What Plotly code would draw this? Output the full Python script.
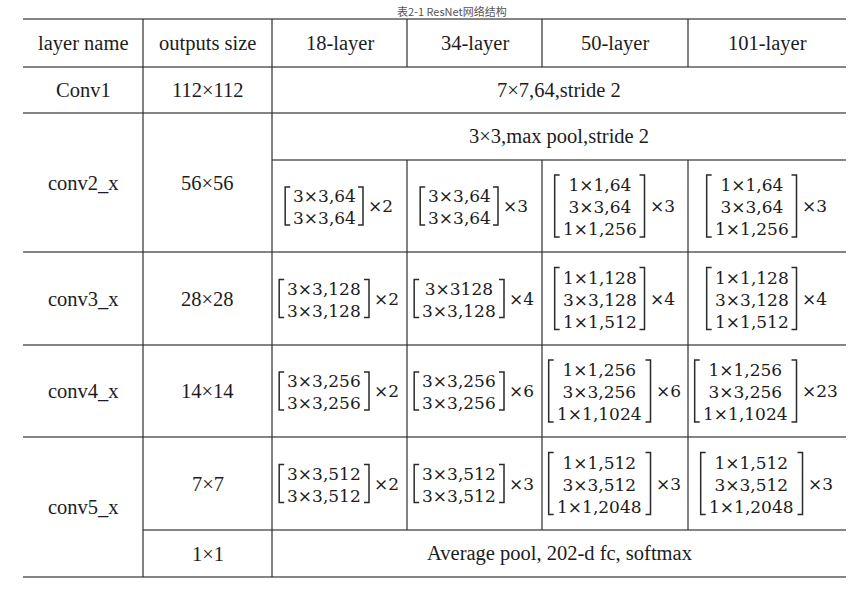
import plotly.graph_objects as go

# ---------------- data ----------------
HEADERS = ["layer name", "outputs size", "18-layer", "34-layer", "50-layer", "101-layer"]
STAGES = ["Conv1", "conv2_x", "conv3_x", "conv4_x", "conv5_x"]
OUT_SIZES = ["112×112", "56×56", "28×28", "14×14", "7×7", "1×1"]
CONV1_SPEC = "7×7,64,stride 2"
POOL_SPEC = "3×3,max pool,stride 2"
HEAD_SPEC = "Average pool, 202-d fc, softmax"
TITLE = "表2-1 ResNet网络结构"

BLOCKS_18 = [["3×3,64", "3×3,64"], ["3×3,128", "3×3,128"],
             ["3×3,256", "3×3,256"], ["3×3,512", "3×3,512"]]
REPEATS_18 = [2, 2, 2, 2]
BLOCKS_34 = [["3×3,64", "3×3,64"], ["3×3128", "3×3,128"],
             ["3×3,256", "3×3,256"], ["3×3,512", "3×3,512"]]
REPEATS_34 = [3, 4, 6, 3]
BLOCKS_50 = [["1×1,64", "3×3,64", "1×1,256"], ["1×1,128", "3×3,128", "1×1,512"],
             ["1×1,256", "3×3,256", "1×1,1024"], ["1×1,512", "3×3,512", "1×1,2048"]]
REPEATS_50 = [3, 4, 6, 3]
BLOCKS_101 = [["1×1,64", "3×3,64", "1×1,256"], ["1×1,128", "3×3,128", "1×1,512"],
              ["1×1,256", "3×3,256", "1×1,1024"], ["1×1,512", "3×3,512", "1×1,2048"]]
REPEATS_101 = [3, 4, 23, 3]

# ---------------- layout geometry ----------------
W, H = 866, 596
COL_EDGES = [23, 143, 272, 407, 542, 688, 846]
ROW_EDGES = [19, 67, 113, 160, 252, 345, 437, 530, 577]

LABEL_FONT = dict(family="Liberation Serif, Times New Roman, serif", size=20.5, color="#1c1c1c")
MATH_FONT_SIZE = 17
MATH_FONT = dict(family="DejaVu Serif, serif", size=MATH_FONT_SIZE, color="#1c1c1c")
HLINE = dict(color="#858585", width=2)
VLINE = dict(color="#2e2e2e", width=1.2)
BRACKET = dict(color="#2a2a2a", width=1.5)

CHAR_EM = {"×": 0.838, ",": 0.318}
WIDTH_FUDGE = 1.11


def text_w(s):
    return sum(CHAR_EM.get(ch, 0.636) for ch in s) * MATH_FONT_SIZE * WIDTH_FUDGE


annotations = []
shapes = []


def cell(c0, c1, r0, r1, text, font=LABEL_FONT):
    annotations.append(dict(
        x=(COL_EDGES[c0] + COL_EDGES[c1]) / 2, y=(ROW_EDGES[r0] + ROW_EDGES[r1]) / 2,
        xref="x", yref="y", text=text, showarrow=False, font=font,
        xanchor="center", yanchor="middle"))


def block(c, r, lines, rep):
    cx = (COL_EDGES[c] + COL_EDGES[c + 1]) / 2
    cy = (ROW_EDGES[r] + ROW_EDGES[r + 1]) / 2
    tw = max(text_w(l) for l in lines)
    mult = "×" + str(rep)
    mw = text_w(mult)
    pad, gap, serif = 4, 3, 5
    gw = 2 * pad + tw + gap + mw
    L = cx - gw / 2
    R = L + 2 * pad + tw
    half = 12 * len(lines) - 5
    top, bot = cy - half, cy + half
    shapes.append(dict(type="path", xref="x", yref="y", line=BRACKET,
                       path=f"M {L + serif},{top} L {L},{top} L {L},{bot} L {L + serif},{bot}"))
    shapes.append(dict(type="path", xref="x", yref="y", line=BRACKET,
                       path=f"M {R - serif},{top} L {R},{top} L {R},{bot} L {R - serif},{bot}"))
    annotations.append(dict(x=L + pad + tw / 2, y=cy + 1, xref="x", yref="y",
                            text="<br>".join(lines), showarrow=False, font=MATH_FONT,
                            xanchor="center", yanchor="middle", align="center"))
    annotations.append(dict(x=R + gap, y=cy, xref="x", yref="y", text=mult,
                            showarrow=False, font=MATH_FONT, xanchor="left", yanchor="middle"))


def hline(r, c0, c1):
    shapes.append(dict(type="line", xref="x", yref="y", x0=COL_EDGES[c0], x1=COL_EDGES[c1],
                       y0=ROW_EDGES[r], y1=ROW_EDGES[r], line=HLINE))


def vline(c, r0, r1):
    shapes.append(dict(type="line", xref="x", yref="y", x0=COL_EDGES[c], x1=COL_EDGES[c],
                       y0=ROW_EDGES[r0], y1=ROW_EDGES[r1], line=VLINE))


# grid lines
for r in [0, 1, 2, 4, 5, 6, 8]:
    hline(r, 0, 6)
hline(3, 2, 6)
hline(7, 1, 6)
vline(1, 0, 8)
vline(2, 0, 8)
for c in [3, 4, 5]:
    vline(c, 0, 1)
    vline(c, 3, 7)

# header
for i, h in enumerate(HEADERS):
    cell(i, i + 1, 0, 1, h)

# stage names
cell(0, 1, 1, 2, STAGES[0])
cell(0, 1, 2, 4, STAGES[1])
cell(0, 1, 4, 5, STAGES[2])
cell(0, 1, 5, 6, STAGES[3])
cell(0, 1, 6, 8, STAGES[4])

# output sizes
cell(1, 2, 1, 2, OUT_SIZES[0])
cell(1, 2, 2, 4, OUT_SIZES[1])
cell(1, 2, 4, 5, OUT_SIZES[2])
cell(1, 2, 5, 6, OUT_SIZES[3])
cell(1, 2, 6, 7, OUT_SIZES[4])
cell(1, 2, 7, 8, OUT_SIZES[5])

# spanning specs
cell(2, 6, 1, 2, CONV1_SPEC)
cell(2, 6, 2, 3, POOL_SPEC)
cell(2, 6, 7, 8, HEAD_SPEC)

# residual blocks
block_rows = [3, 4, 5, 6]
for col, blocks, reps in [(2, BLOCKS_18, REPEATS_18), (3, BLOCKS_34, REPEATS_34),
                          (4, BLOCKS_50, REPEATS_50), (5, BLOCKS_101, REPEATS_101)]:
    for r, lines, rep in zip(block_rows, blocks, reps):
        block(col, r, lines, rep)

# caption above the table (kept small so it fits above the top rule)
annotations.append(dict(x=452, y=1, xref="x", yref="y", text=TITLE, showarrow=False,
                        font=dict(family="Noto Sans CJK SC", size=11, color="#555555"),
                        xanchor="center", yanchor="top"))

fig = go.Figure()
fig.add_trace(go.Scatter(x=[0, W], y=[0, H], mode="markers", marker=dict(opacity=0),
                         hoverinfo="skip", showlegend=False))
fig.update_layout(
    width=W, height=H, margin=dict(l=0, r=0, t=0, b=0),
    paper_bgcolor="white", plot_bgcolor="white",
    xaxis=dict(range=[0, W], visible=False, fixedrange=True),
    yaxis=dict(range=[H, 0], visible=False, fixedrange=True),
    shapes=shapes, annotations=annotations, showlegend=False,
)
fig.write_html("out.html", config={"displayModeBar": False},
               post_script="document.body.style.margin='0';document.body.style.overflow='hidden';")
